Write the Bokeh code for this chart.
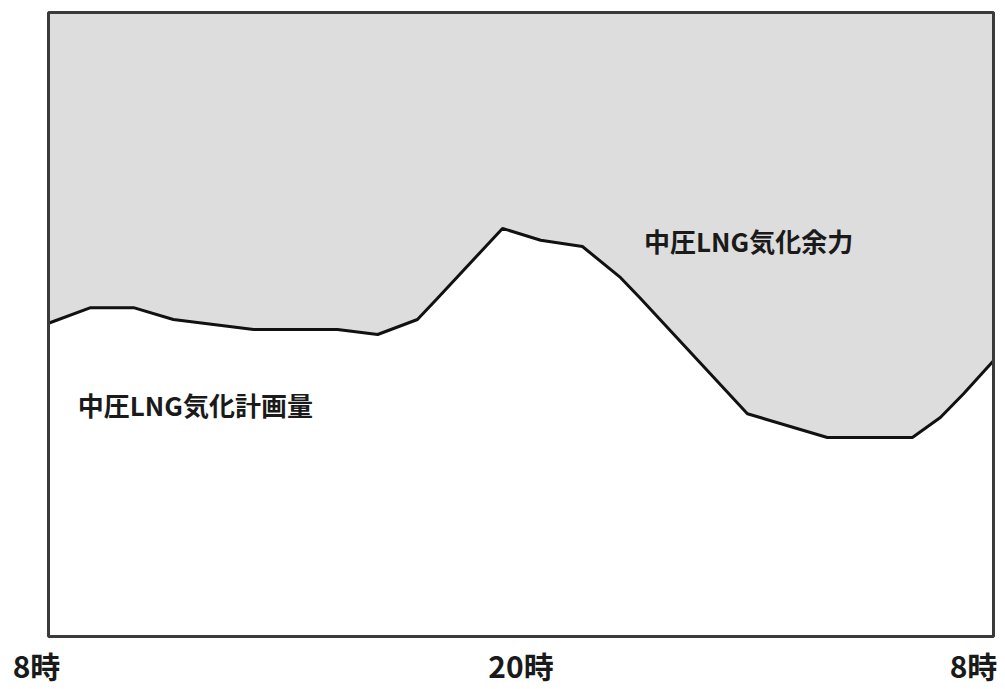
from bokeh.plotting import figure
from bokeh.models import Label, Range1d
from bokeh.embed import file_html
from bokeh.resources import INLINE

# hours (8 = 8時, 32 = next day 8時)
hours = [8.0, 9.07, 10.16, 11.17, 13.21, 15.34, 16.36, 17.37, 17.88, 19.53,
         20.50, 21.56, 22.53, 23.03, 25.75, 27.78, 29.94, 30.65, 31.24, 32.0]
# planned medium-pressure LNG vaporization (relative units, 0-100)
planned = [50.2, 52.7, 52.7, 50.8, 49.2, 49.2, 48.4, 50.8, 54.2, 65.4,
           63.5, 62.5, 57.5, 54.2, 35.7, 31.9, 31.9, 35.1, 38.9, 44.2]
capacity_top = 100.0

tick_hours = [8, 20, 32]
tick_labels = ["8時", "20時", "8時"]
tick_offsets = [-12, 0, -20]

label_planned = "中圧LNG気化計画量"
label_spare = "中圧LNG気化余力"

FONT = "Noto Sans CJK JP"

W, H = 1005, 689
# chart box in screen pixels
BL, BR, BT, BB = 48, 993, 12, 636
x0, x1 = tick_hours[0], tick_hours[-1]
sx = (BR - BL) / (x1 - x0)
sy = (BB - BT) / capacity_top

p = figure(width=W, height=H, output_backend="svg", toolbar_location=None,
           x_range=Range1d(x0 - BL / sx, x1 + (W - BR) / sx),
           y_range=Range1d(-(H - BB) / sy, capacity_top + BT / sy),
           min_border=0, min_border_left=0, min_border_right=0,
           min_border_top=0, min_border_bottom=0)
p.xaxis.visible = False
p.yaxis.visible = False
p.xgrid.visible = False
p.ygrid.visible = False
p.background_fill_color = "white"
p.border_fill_color = "white"
p.outline_line_color = None

p.varea(x=hours, y1=planned, y2=[capacity_top] * len(hours),
        fill_color="#dddddd")
p.line(x=hours, y=planned, line_color="#111111", line_width=3)
# chart frame
p.quad(left=[x0], right=[x1], bottom=[0], top=[capacity_top],
       fill_color=None, line_color="#3a3a3a", line_width=3)

for h, t, off in zip(tick_hours, tick_labels, tick_offsets):
    p.add_layout(Label(x=h, y=-28 / sy, x_offset=off, text=t,
                       text_align="center", text_baseline="middle",
                       text_font=FONT, text_font_style="bold",
                       text_font_size="30px", text_color="#1a1a1a"))

p.add_layout(Label(x=25.78, y=63.5, text=label_spare, text_align="center",
                   text_baseline="middle", text_font=FONT,
                   text_font_style="bold", text_font_size="26px",
                   text_color="#1a1a1a"))
p.add_layout(Label(x=11.73, y=37.2, text=label_planned, text_align="center",
                   text_baseline="middle", text_font=FONT,
                   text_font_style="bold", text_font_size="26px",
                   text_color="#1a1a1a"))

open("out.html", "w").write(file_html(p, INLINE))
